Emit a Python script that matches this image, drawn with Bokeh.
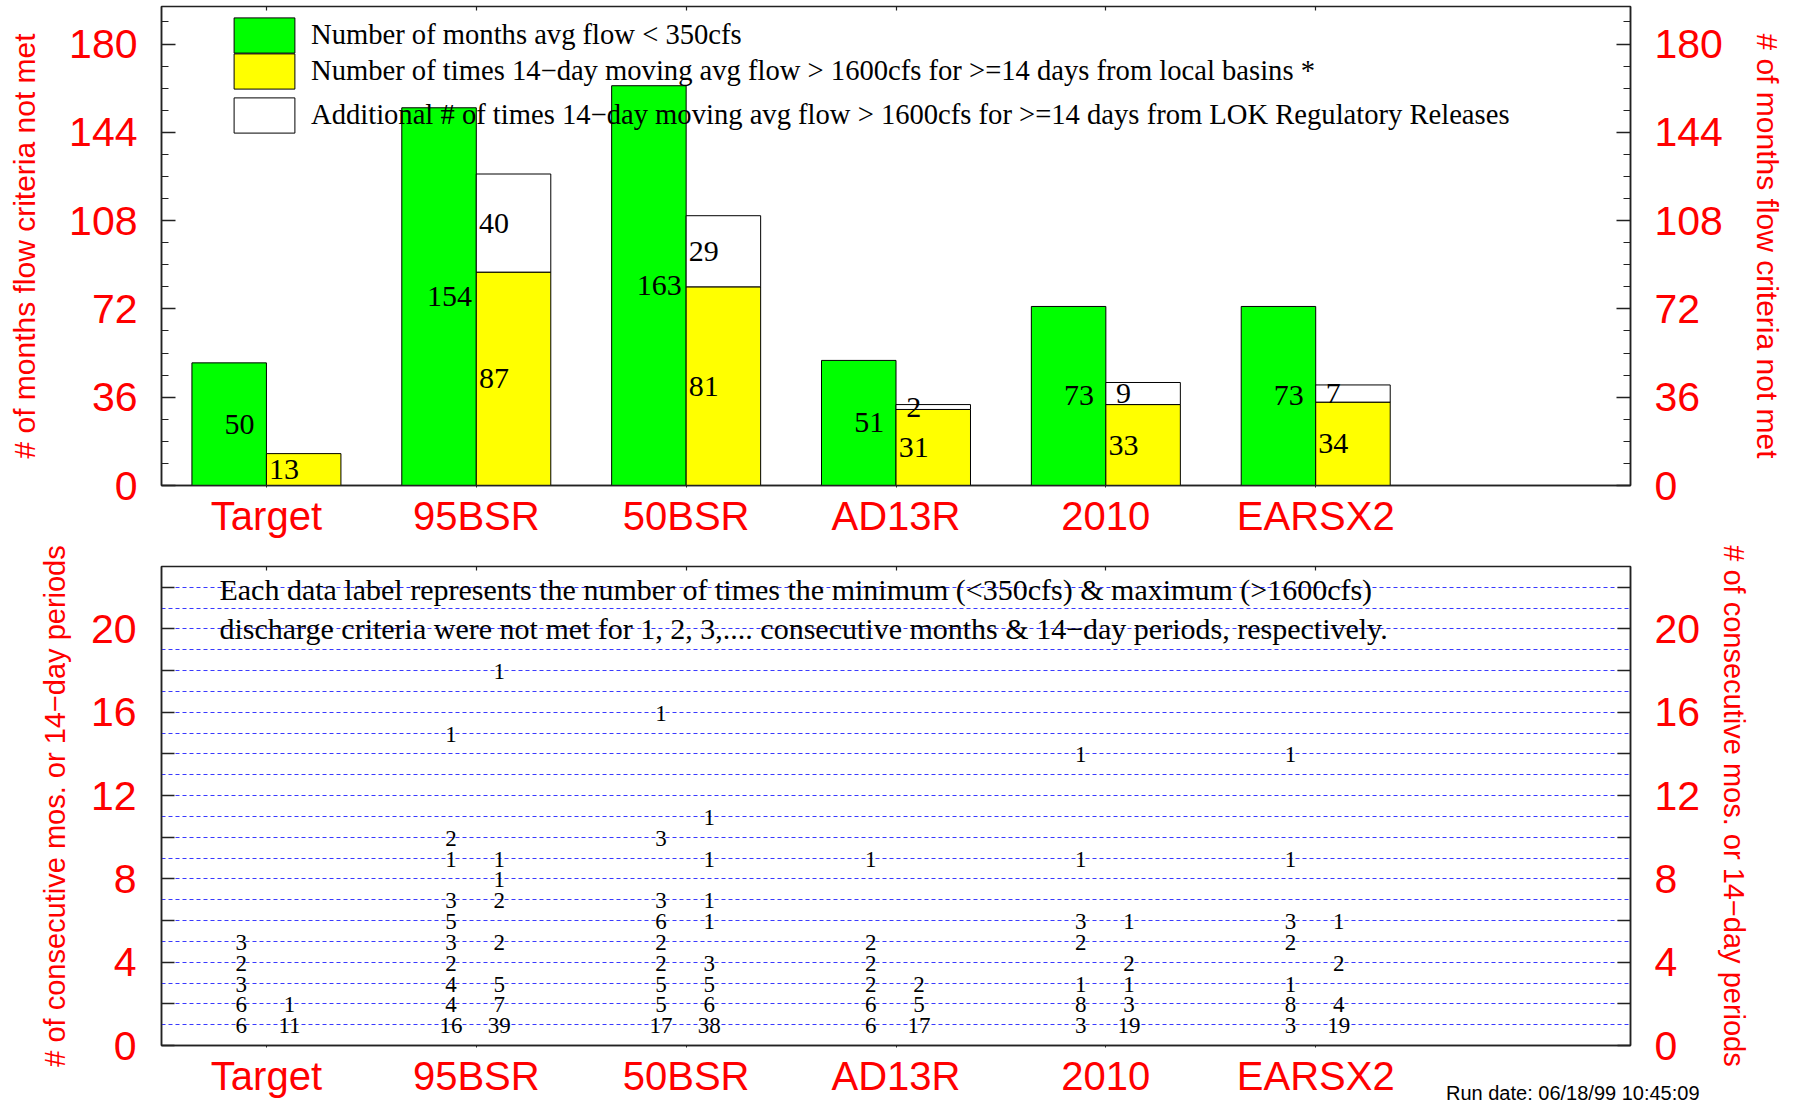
import numpy as np
from bokeh.plotting import figure
from bokeh.models import (Range1d, FixedTicker, LinearAxis, Legend, LegendItem, Label, Grid, Div)
from bokeh.layouts import column
from bokeh.embed import file_html
from bokeh.resources import INLINE
from bokeh.core.properties import value

# ---------------- data ----------------
categories = ["Target", "95BSR", "50BSR", "AD13R", "2010", "EARSX2"]
months_low = [50, 154, 163, 51, 73, 73]          # months avg flow < 350cfs
times_high_local = [13, 87, 81, 31, 33, 34]      # 14-day avg > 1600cfs, local basins
times_high_lok = [0, 40, 29, 2, 9, 7]            # additional, LOK regulatory releases

# bottom panel: {consecutive length: number of times}
target_mo = {1: 6, 2: 6, 3: 3, 4: 2, 5: 3}
target_14d = {1: 11, 2: 1}
bsr95_mo = {1: 16, 2: 4, 3: 4, 4: 2, 5: 3, 6: 5, 7: 3, 9: 1, 10: 2, 15: 1}
bsr95_14d = {1: 39, 2: 7, 3: 5, 5: 2, 7: 2, 8: 1, 9: 1, 18: 1}
bsr50_mo = {1: 17, 2: 5, 3: 5, 4: 2, 5: 2, 6: 6, 7: 3, 10: 3, 16: 1}
bsr50_14d = {1: 38, 2: 6, 3: 5, 4: 3, 6: 1, 7: 1, 9: 1, 11: 1}
ad13r_mo = {1: 6, 2: 6, 3: 2, 4: 2, 5: 2, 9: 1}
ad13r_14d = {1: 17, 2: 5, 3: 2}
alt2010_mo = {1: 3, 2: 8, 3: 1, 5: 2, 6: 3, 9: 1, 14: 1}
alt2010_14d = {1: 19, 2: 3, 3: 1, 4: 2, 6: 1}
earsx2_mo = {1: 3, 2: 8, 3: 1, 5: 2, 6: 3, 9: 1, 14: 1}
earsx2_14d = {1: 19, 2: 4, 4: 2, 6: 1}

top_y_ticks = [0, 36, 72, 108, 144, 180]
bot_y_ticks = [0, 2, 4, 6, 8, 10, 12, 14, 16, 18, 20, 22]
bot_y_labelled = [0, 4, 8, 12, 16, 20]

legend_labels = [
    "Number of months avg flow < 350cfs",
    "Number of times 14\u2212day moving avg flow > 1600cfs for >=14 days from local basins *",
    "Additional # of times 14\u2212day moving avg flow > 1600cfs for >=14 days from LOK Regulatory Releases",
]
note_lines = [
    "Each data label represents the number of times the minimum (<350cfs) & maximum (>1600cfs)",
    "discharge criteria were not met for 1, 2, 3,.... consecutive months & 14\u2212day periods, respectively.",
]
top_title = "# of months flow criteria not met"
bot_title = "# of consecutive mos. or 14\u2212day periods"
run_date = "Run date: 06/18/99 10:45:09"

# ---------------- styling ----------------
SERIF = "Liberation Serif"
SANS = "Liberation Sans"
RED = "#ff0000"
FRAME = "#222222"
GREEN = "#00ff00"
YELLOW = "#ffff00"
BW = 0.355

xs = np.arange(1, len(categories) + 1)
x_over = {int(x): c for x, c in zip(xs, categories)}


def y_axis(ticker, title, title_size, overrides, label_standoff, title_standoff, tick_in, minor_in):
    return LinearAxis(
        ticker=ticker, axis_label=title, major_label_overrides=overrides,
        major_label_text_font=SANS, major_label_text_font_size="41px",
        major_label_text_color=RED, axis_label_text_font=SANS,
        axis_label_text_font_size=title_size, axis_label_text_color=RED,
        axis_label_text_font_style="normal",
        major_tick_in=tick_in, major_tick_out=0, minor_tick_in=minor_in, minor_tick_out=0,
        major_label_standoff=label_standoff, axis_label_standoff=title_standoff,
        axis_line_color=FRAME, axis_line_width=1.5,
        major_tick_line_color=FRAME, minor_tick_line_color=FRAME,
        major_tick_line_width=1.5, minor_tick_line_width=1.2)


def x_axes(p):
    xt = FixedTicker(ticks=[int(x) for x in xs])
    below = LinearAxis(
        ticker=xt, major_label_overrides=x_over,
        major_label_text_font=SANS, major_label_text_font_size="40px",
        major_label_text_color=RED, major_tick_in=0, major_tick_out=2,
        major_label_standoff=6, axis_line_color=FRAME, axis_line_width=1.5,
        major_tick_line_color=FRAME)
    p.add_layout(below, "below")
    above = LinearAxis(
        ticker=xt, major_label_text_font_size="1px", major_label_text_alpha=0,
        major_label_standoff=0, major_tick_in=4, major_tick_out=0,
        axis_line_color=None, major_tick_line_color=FRAME, major_tick_line_width=1.2)
    p.add_layout(above, "above")


def make_fig(height, yr, top_border):
    p = figure(width=1792, height=height, x_range=Range1d(0.5, 7.5), y_range=yr,
               x_axis_type=None, y_axis_type=None, output_backend="svg",
               toolbar_location=None, min_border_top=top_border, min_border_bottom=56,
               min_border_left=161, min_border_right=162)
    p.outline_line_color = FRAME
    p.outline_line_width = 1.5
    p.background_fill_color = "white"
    p.border_fill_color = "white"
    return p


# ---------------- top panel ----------------
top = make_fig(541, Range1d(0, 195.3), 6)
yt = FixedTicker(ticks=top_y_ticks, minor_ticks=list(range(0, 196, 9)))
top.add_layout(y_axis(yt, top_title, "30px", {}, 24, 25, 14, 7), "left")
top.add_layout(y_axis(yt, top_title, "30px", {}, 24, 25, 14, 7), "right")
x_axes(top)

yellow = np.array(times_high_local)
white = np.array(times_high_lok)
green = np.array(months_low)

g = top.vbar(x=xs - BW / 2, width=BW, top=green, fill_color=GREEN, line_color="black", line_width=1)
yl = top.vbar(x=xs + BW / 2, width=BW, top=yellow, fill_color=YELLOW, line_color="black", line_width=1)
m = white > 0
w = top.vbar(x=(xs + BW / 2)[m], width=BW, bottom=yellow[m], top=(yellow + white)[m],
             fill_color="white", line_color="black", line_width=1)

lab_kw = dict(text_font=value(SERIF), text_font_size="30px", text_color="black",
              text_baseline="middle", text_align="center")
top.text(x=xs - 0.128, y=green / 2, text=[str(v) for v in green], **lab_kw)
top.text(x=xs + 0.084, y=yellow / 2, text=[str(v) for v in yellow], **lab_kw)
top.text(x=(xs + 0.084)[m], y=(yellow + white / 2)[m], text=[str(v) for v in white[m]], **lab_kw)

leg_kw = dict(glyph_width=76, glyph_height=44, label_height=44, spacing=0, padding=0, margin=0,
              label_standoff=9, label_text_font=SERIF, label_text_font_size="28.6px",
              label_text_color="black", border_line_color=None, background_fill_alpha=0)
for rend, lab, ypos in zip([g, yl, w], legend_labels, [428, 392, 348]):
    top.add_layout(Legend(items=[LegendItem(label=value(lab), renderers=[rend])],
                          location=(65, ypos), **leg_kw))

# ---------------- bottom panel ----------------
bot = make_fig(560, Range1d(0, 23), 25)
byt = FixedTicker(ticks=bot_y_ticks)
bover = {t: ("" if t not in bot_y_labelled else str(t)) for t in bot_y_ticks}
bot.add_layout(y_axis(byt, bot_title, "29px", bover, 25, 17, 13, 0), "left")
bot.add_layout(y_axis(byt, bot_title, "29px", bover, 24, 15, 13, 0), "right")
x_axes(bot)

grid = Grid(dimension=1, ticker=FixedTicker(ticks=list(range(0, 24))),
            grid_line_color="#3a3aff", grid_line_dash="4 3", grid_line_width=1)
bot.add_layout(grid, "center")

runs_mo = [target_mo, bsr95_mo, bsr50_mo, ad13r_mo, alt2010_mo, earsx2_mo]
runs_14d = [target_14d, bsr95_14d, bsr50_14d, ad13r_14d, alt2010_14d, earsx2_14d]
tx, ty, tt = [], [], []
for x0, mo, d14 in zip(xs, runs_mo, runs_14d):
    for n, cnt in mo.items():
        tx.append(x0 - 0.12); ty.append(n); tt.append(str(cnt))
    for n, cnt in d14.items():
        tx.append(x0 + 0.11); ty.append(n); tt.append(str(cnt))
bot.text(x=tx, y=ty, text=tt, text_align="center", text_baseline="middle", y_offset=1,
         text_font=value(SERIF), text_font_size="23px", text_color="black")

for line, yv in zip(note_lines, [21.89, 20.02]):
    bot.add_layout(Label(x=0.776, y=yv, text=line, text_font=SERIF, text_font_size="30px",
                         text_color="black", text_baseline="alphabetic", text_align="left"))

run_div = Div(text=run_date, width=270, height=22, styles={
    "position": "absolute", "left": "1441px", "top": "1077px",
    "line-height": "22px", "font-family": SANS, "font-size": "20px", "color": "black",
    "white-space": "nowrap", "overflow": "visible"})

p = column(top, bot, run_div, spacing=0, styles={"position": "relative"})
open("out.html", "w").write(file_html(p, INLINE))
